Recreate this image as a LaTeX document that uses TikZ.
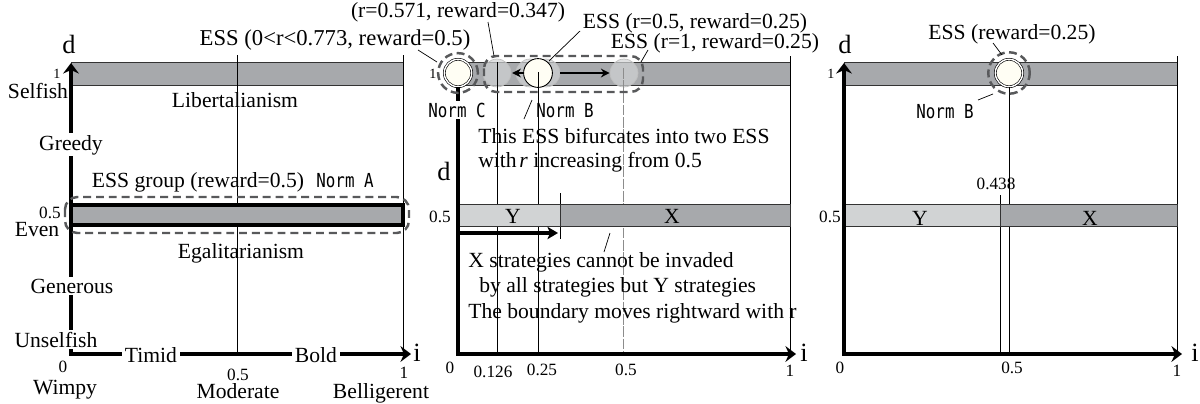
\documentclass[tikz,border=0pt]{standalone}
\usepackage{fontspec}
\setmainfont{Liberation Serif}
\newfontfamily\normfont[FakeStretch=0.82]{DejaVu Sans Mono}
\usetikzlibrary{arrows.meta}
\definecolor{barD}{HTML}{A7A9AC}
\definecolor{barL}{HTML}{D1D3D4}
\definecolor{dashG}{HTML}{58595B}
\definecolor{cream}{HTML}{FFFEF4}
\begin{document}
\begin{tikzpicture}[x=0.02cm,y=-0.02cm,
  lbl/.style={font=\fontsize{12.3}{14}\selectfont, inner sep=0pt, anchor=base},
  sm/.style={font=\fontsize{9.8}{11}\selectfont, inner sep=0pt, anchor=base},
  tn/.style={font=\fontsize{8}{9}\selectfont, inner sep=0pt, anchor=base},
  big/.style={font=\fontsize{15}{17}\selectfont, inner sep=0pt, anchor=base},
  nrm/.style={font=\normfont\fontsize{11}{13}\selectfont, inner sep=0pt, anchor=base},
  wb/.style={fill=white, inner xsep=1.5pt, inner ysep=1pt},
  axes/.style={line width=2.2pt, line join=miter, {Stealth[length=6pt,width=9pt,inset=2pt]}-{Stealth[length=6pt,width=9pt,inset=2pt]}},
  axisone/.style={line width=2.2pt, line join=miter, -{Stealth[length=6pt,width=9pt,inset=2pt]}},
  thinline/.style={line width=0.5pt},
  halfline/.style={line width=0.5pt, draw=black!45, dash pattern=on 6pt off 1pt},
  leader/.style={line width=0.4pt},
  barTop/.style={fill=barD, draw=black!80, line width=0.5pt},
  barX/.style={fill=barD, draw=black!80, line width=0.5pt},
  barY/.style={fill=barL, draw=black!80, line width=0.5pt},
  dbox/.style={draw=dashG, line width=1.4pt, dash pattern=on 4.5pt off 2.8pt, rounded corners=7pt},
  dring/.style={draw=dashG, line width=1.4pt, dash pattern=on 4.5pt off 2.5pt},
  ghost/.style={circle, inner sep=0pt, minimum size=15.9pt, fill=barL, fill opacity=0.7, draw=black!25, line width=0.4pt},
  normdot/.style={circle, inner sep=0pt, minimum size=15.6pt, fill=cream, draw=black, line width=0.35pt, double=white, double distance=0.8pt},
  whitedot/.style={circle, inner sep=0pt, minimum size=16.4pt, fill=cream, draw=black, line width=0.5pt},
  smallarrow/.style={line width=1pt, -{Stealth[length=5pt,width=5pt]}},
  midarrow/.style={line width=1.8pt, -{Stealth[length=6pt,width=7pt,inset=1.5pt]}}
]
\useasboundingbox (0,0) rectangle (1200,403);

% ================= Panel 1 =================
\draw[barTop] (71,62) rectangle (403,85);
\draw[thinline] (237,55) -- (237,354);
\draw[thinline] (403,55) -- (403,354);
\draw[fill=barD, line width=2pt] (71,205) rectangle (403,225);
\draw[axes] (71,63) -- (71,354) -- (411,354);
\draw[dbox] (65,197) rectangle (409,233);

\node[big] (d1) at (69,53) {d};
\node[tn] (one1) at (57,78) {1};
\node[lbl] (self) at (38,98) {Selfish};
\node[lbl] (lib) at (235,107) {Libertalianism};
\node[lbl,wb] (greedy) at (71,150) {Greedy};
\node[lbl] (essg) at (198,187) {ESS group (reward=0.5)};
\node[nrm] (nA) at (345,187) {Norm A};
\node[sm] (h1) at (50,218) {0.5};
\node[lbl] (even) at (37,236) {Even};
\node[lbl] (egal) at (241,258) {Egalitarianism};
\node[lbl,wb] (gen) at (72,293) {Generous};
\node[lbl,wb] (unself) at (56,347) {Unselfish};
\node[lbl,wb] (timid) at (151,362) {Timid};
\node[lbl,wb] (bold) at (316,362) {Bold};
\node[big] (i1) at (417,361) {i};
\node[sm] (z1) at (63,372) {0};
\node[lbl] (wimpy) at (65,394) {Wimpy};
\node[sm] (m1) at (238,380) {0.5};
\node[lbl] (mod) at (238,398) {Moderate};
\node[sm] (o1) at (404,378) {1};
\node[lbl] (bel) at (381,398) {Belligerent};

% ================= Panel 2 =================
\draw[barTop] (458,62) rectangle (790,85);
\node[ghost] (g1) at (497,73) {};
\node[ghost] (g2) at (530,73) {};
\node[ghost] (g3) at (546,73) {};
\node[ghost] (g4) at (624,73) {};
\node[whitedot] (wB) at (538,73) {};
\node[normdot] (nCdot) at (458,73) {};
\draw[smallarrow] (wB.west) -- ++(-11,0) coordinate (la);
\draw[smallarrow] (g3.east) -- (g4.west);
\draw[thinline] (497,62) -- (497,354);
\draw[thinline] (538,72) -- (538,354);
\draw[halfline] (623,68) -- (623,354);
\draw[thinline] (790,56) -- (790,354);
\draw[thinline] (560,193) -- (560,239);
\draw[barY] (458,204) rectangle (560,226);
\draw[barX] (560,204) rectangle (790,226);
\draw[axisone] (nCdot.south) -- (458,354) -- (796,354);
\draw[midarrow] (459,233) -- (558,233);
\draw[dring] (nCdot) circle [radius=11.3pt];
\draw[dbox] (484,56) rectangle (643,92);

\node[tn] (one2) at (433,78) {1};
\node[nrm,wb] (nC) at (457,117) {Norm C};
\node[nrm] (nB) at (565,117) {Norm B};
\node[lbl, anchor=base west] (bif1) at (478,143) {This ESS bifurcates into two ESS};
\node[lbl, anchor=base west] (bif2) at (478,167) {with\hspace{1.5pt}\textit{r} increasing from 0.5};
\node[big] (d2) at (444,180) {d};
\node[sm] (h2) at (440,222) {0.5};
\node[lbl] (Y2) at (513,223) {Y};
\node[lbl] (X2) at (672,223) {X};
\node[lbl, anchor=base west] (xs1) at (468,267) {X strategies cannot be invaded};
\node[lbl, anchor=base west] (xs2) at (479,292) {by all strategies but Y strategies};
\node[lbl, anchor=base west] (xs3) at (468,318) {The boundary moves rightward with r};
\node[big] (i2) at (804,361) {i};
\node[sm] (z2) at (450,373) {0};
\node[sm] (t126) at (493,377) {0.126};
\node[sm] (t25) at (542,375) {0.25};
\node[sm] (t5) at (626,375) {0.5};
\node[sm] (o2) at (790,376) {1};

\node[lbl] (lab571) at (458,17) {(r=0.571, reward=0.347)};
\node[lbl, font=\fontsize{12.9}{15}\selectfont] (lab773) at (335,45) {ESS (0<r<0.773, reward=0.5)};
\node[lbl] (lab05) at (695,28) {ESS (r=0.5, reward=0.25)};
\node[lbl] (lab1) at (715,48) {ESS (r=1, reward=0.25)};

\coordinate (p571a) at (488,22); \coordinate (p571b) at (494,56);
\coordinate (p773a) at (418,50); \coordinate (p773b) at (437,62);
\coordinate (p05a) at (580,31);  \coordinate (p05b) at (549,61);
\coordinate (p1a) at (648,50);   \coordinate (p1b) at (641,62);
\coordinate (pBa) at (524,119);  \coordinate (pBb) at (532,100);
\coordinate (pXa) at (604,252);  \coordinate (pXb) at (610,233);
\draw[leader] (p571a) -- (p571b);
\draw[leader] (p773a) -- (p773b);
\draw[leader] (p05a) -- (p05b);
\draw[leader] (p1a) -- (p1b);
\draw[leader] (pBa) -- (pBb);
\draw[leader] (pXa) -- (pXb);

% ================= Panel 3 =================
\draw[barTop] (844,62) rectangle (1177,85);
\node[normdot] (nB3dot) at (1009,73) {};
\draw[thinline] (nB3dot.south) -- (1009,354);
\draw[thinline] (1000,195) -- (1000,354);
\draw[thinline] (1177,56) -- (1177,354);
\draw[barY] (844,204) rectangle (1000,226);
\draw[barX] (1000,204) rectangle (1177,226);
\draw[axes] (844,63) -- (844,354) -- (1182,354);
\draw[dring] (nB3dot) circle [radius=11.8pt];

\node[big] (d3) at (845,53) {d};
\node[tn] (one3) at (831,78) {1};
\node[lbl] (ess3) at (1012,39) {ESS (reward=0.25)};
\node[nrm] (nB3) at (945,118) {Norm B};
\node[sm] (t438) at (996,189) {0.438};
\node[sm] (h3) at (830,222) {0.5};
\node[lbl] (Y3) at (920,225) {Y};
\node[lbl] (X3) at (1090,225) {X};
\node[big] (i3) at (1195,361) {i};
\node[sm] (z3) at (840,373) {0};
\node[sm] (t53) at (1012,373) {0.5};
\node[sm] (o3) at (1177,376) {1};

\coordinate (q1a) at (993,43);  \coordinate (q1b) at (1002,55);
\coordinate (q2a) at (978,100); \coordinate (q2b) at (993,94);
\draw[leader] (q1a) -- (q1b);
\draw[leader] (q2a) -- (q2b);
\end{tikzpicture}
\end{document}
